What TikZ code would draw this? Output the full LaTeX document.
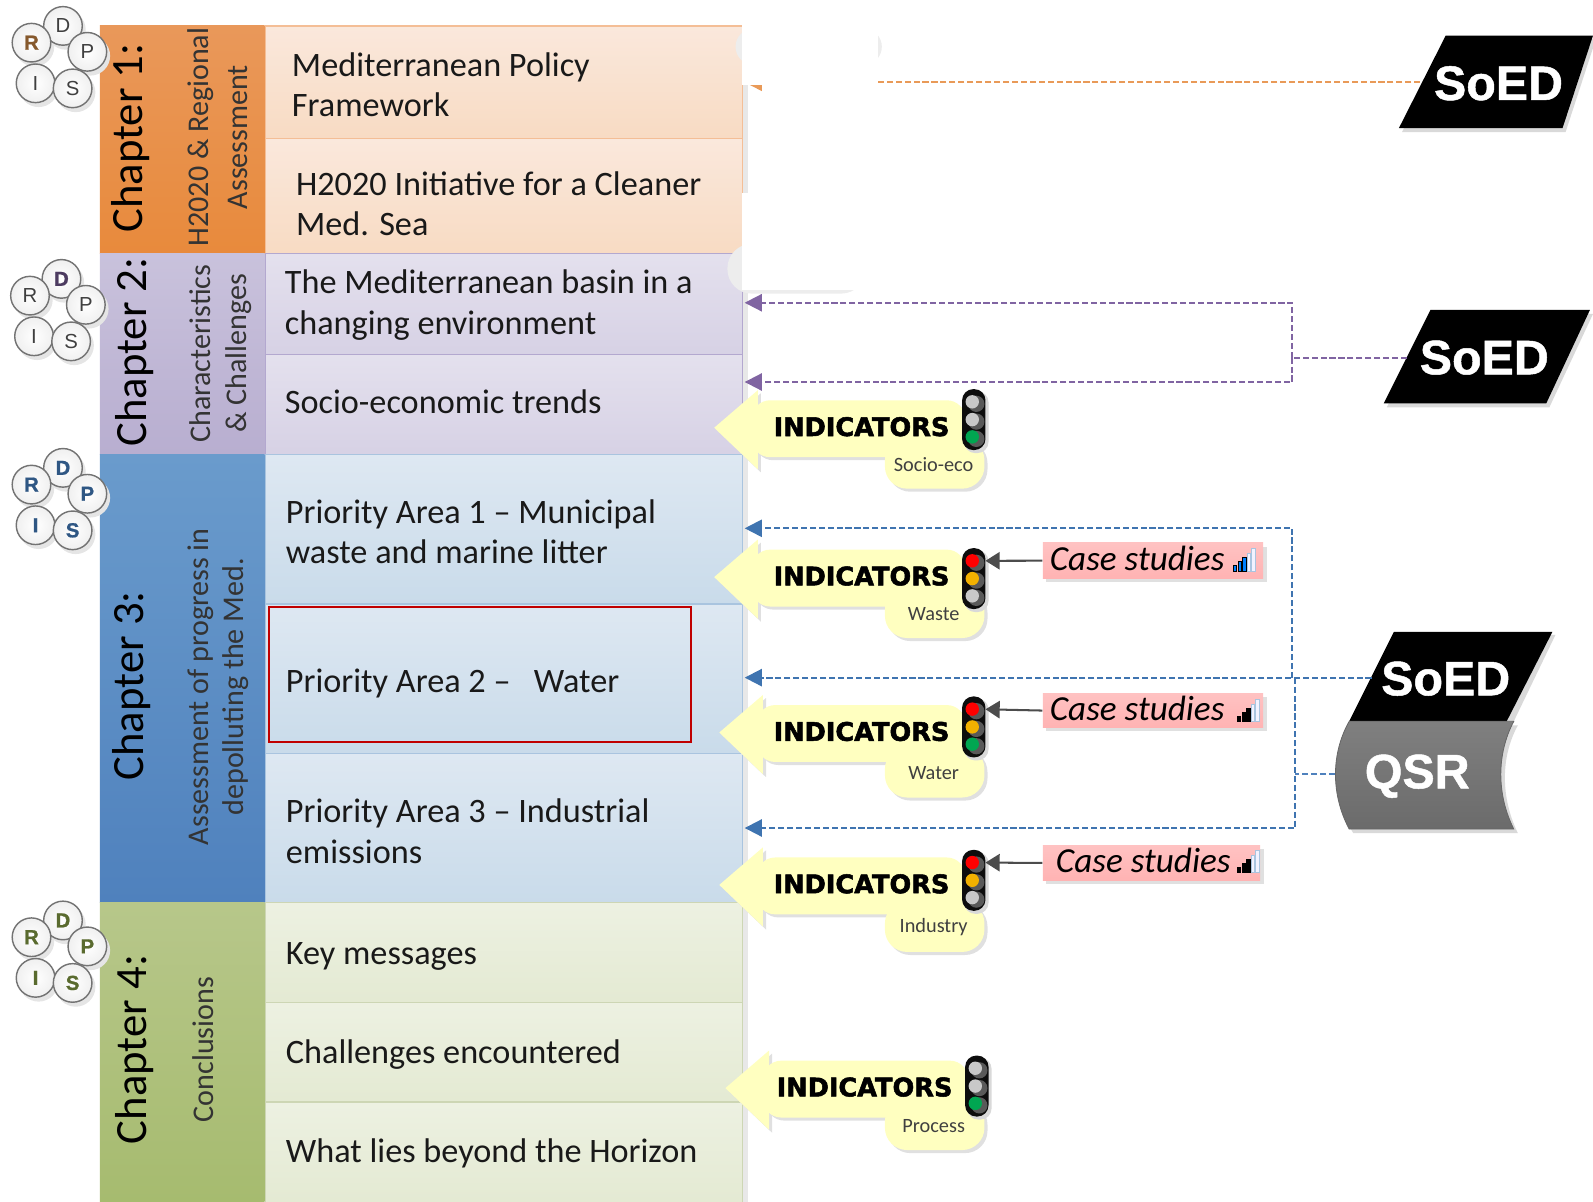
\documentclass[tikz,border=0pt]{standalone}
\usepackage{fontspec}
\setmainfont{Carlito}
\newfontfamily\arialf[BoldFeatures={FakeBold=1}]{Liberation Sans}
\newfontfamily\heavyf[BoldFeatures={FakeBold=2}]{DejaVu Sans}
\usetikzlibrary{arrows.meta}
\definecolor{orangeL}{HTML}{E9985A}
\definecolor{orangeD}{HTML}{E88A3C}
\definecolor{orangeLine}{HTML}{F4BE96}
\definecolor{orangeDash}{HTML}{E99A58}
\definecolor{orangeP}{HTML}{FAE8DC}
\definecolor{orangeQ}{HTML}{F8DBC3}
\definecolor{purpL}{HTML}{C9C2DC}
\definecolor{purpD}{HTML}{B8AED0}
\definecolor{purpLine}{HTML}{B3A8CF}
\definecolor{purpArrow}{HTML}{8064A2}
\definecolor{blueL}{HTML}{6A9BCC}
\definecolor{blueD}{HTML}{4F81BD}
\definecolor{blueLine}{HTML}{A9C4DF}
\definecolor{blueP}{HTML}{DEE8F2}
\definecolor{blueQ}{HTML}{C9DBEA}
\definecolor{blueArrow}{HTML}{3F74B0}
\definecolor{greenL}{HTML}{B7C78A}
\definecolor{greenD}{HTML}{A6BB6F}
\definecolor{greenLine}{HTML}{CDD6B4}
\definecolor{calloutY}{HTML}{FFFFC0}
\definecolor{redbox}{HTML}{C00000}
\definecolor{lampOff}{HTML}{C8C8C8}
\definecolor{lampAmb}{HTML}{F2B100}
\definecolor{lampGrn}{HTML}{00A651}
\definecolor{oliveT}{HTML}{5A6B2F}
\definecolor{caseP}{HTML}{FFC2C2}
\definecolor{caseQ}{HTML}{FFB3B3}
\tikzset{
  sidebar/.style={rectangle,draw=none,inner sep=0pt,anchor=north west},
  panelbox/.style={rectangle,inner sep=0pt,anchor=north west,line width=0.6pt},
  ptxt/.style={anchor=west,inner sep=0pt,align=left,font=\fontsize{16.85}{20}\selectfont,text=black!90},
  chap/.style={rotate=90,inner sep=0pt,font=\fontsize{22}{24}\selectfont,text=black},
  subt/.style={rotate=90,inner sep=0pt,align=center,font=\fontsize{14.8}{17.5}\selectfont,text=black!80},
  bubble/.style={circle,draw=black!55,line width=0.7pt,minimum size=19pt,inner sep=0pt,inner color=white,outer color=black!6,font=\arialf\fontsize{10}{10}\selectfont,text=black!75},
  bubshadow/.style={fill=black!10},
  indictxt/.style={inner sep=0pt,font=\heavyf\bfseries\fontsize{12.6}{13}\selectfont,text=black},
  subtxt/.style={inner sep=0pt,font=\fontsize{10}{11}\selectfont,text=black!75},
  lamp/.style={circle,inner sep=0pt,minimum size=6.6pt,draw=none},
  casebox/.style={rectangle,inner sep=0pt,anchor=north west,top color=caseP,bottom color=caseQ},
  casetxt/.style={inner sep=0pt,anchor=west,font=\itshape\fontsize{17.3}{18}\selectfont,text=black},
  soedtxt/.style={inner sep=0pt,text=white,font=\arialf\bfseries\fontsize{23.8}{26}\selectfont},
  dashline/.style={dash pattern=on 3pt off 1.4pt,line width=1pt},
  headtip/.style={-{Triangle[length=8.5pt,width=8.5pt]}},
  casearrow/.style={draw=black!70,line width=1pt,-{Triangle[length=7pt,width=8.5pt]},shorten >=3pt},
}
\newcommand\boxat[6]{%
  \pgfmathsetmacro\bw{(#4-#2)*0.5}\pgfmathsetmacro\bh{(#5-#3)*0.5}%
  \node[#6,minimum width=\bw pt,minimum height=\bh pt] (#1) at (#2,#3) {};}
\newcommand\rdpis[7]{%
  \begin{scope}[shift={(#2,#3)}]
    \foreach \cx/\cy in {62/25.5,31/42,86/51,35/82,71.5/87}{\fill[bubshadow] (\cx+3,\cy+4) circle (9.7pt);}
    \node[bubble,#5] (#1D) at (62,25.5) {D};
    \node[bubble,#4] (#1R) at (31,42) {R};
    \node[bubble,#6] (#1P) at (86,51) {P};
    \node[bubble,#7] (#1I) at (35,82) {I};
    \node[bubble,#7] (#1S) at (71.5,87) {S};
  \end{scope}}
% name tipdx dx dy sublabel subdy lamp1 lamp2 lamp3 ; \ldy = extra lamp shift, \pdx = pill shift
\def\ldy{0}\def\pdx{0}
\newcommand\indic[9]{%
  \begin{scope}[shift={(#3,#4)}]
    \foreach \sx/\sc in {3/black!12,0/calloutY}{
      \begin{scope}[shift={(\sx,\sx)}]
      \fill[\sc] (703+#2,421)--(746+#2,384)--(746+#2,462)--cycle;
      \fill[\sc,rounded corners=9pt] (740+#2,394) rectangle (950,450);
      \fill[\sc,rounded corners=11pt] (871+\pdx,431+#6) rectangle (969+\pdx,481+#6);
      \end{scope}}
    \node[indictxt] (#1txt) at (848,420) {INDICATORS};
    \node[subtxt] (#1sub) at (919+\pdx,457+#6) {#5};
    \fill[black!15,rounded corners=5.5pt] (949,385+\ldy) rectangle (973,446+\ldy);
    \fill[black!95,rounded corners=5.5pt] (947,383+\ldy) rectangle (970,443+\ldy);
    \foreach \ly in {395.5,413,430}{\fill[black!65] (961,\ly+2+\ldy) circle (4pt);}
    \node[lamp,fill=#7] (#1a) at (957,395.5+\ldy) {};
    \node[lamp,fill=#8] (#1b) at (957,413+\ldy) {};
    \node[lamp,fill=#9] (#1c) at (957,430+\ldy) {};
  \end{scope}}
\newcommand\sigbars[3]{%
  \begin{scope}[shift={(#1,#2)}]
    \foreach \bx/\bhh in {0/5,4.5/9,9/13}{\filldraw[fill=#3,draw=black,line width=0.4pt] (\bx,0) rectangle (\bx+3.4,-\bhh);}
    \foreach \bx/\bhh in {13.5/17,18/22}{\filldraw[fill=blue!5,draw=blueLine,line width=0.4pt] (\bx,0) rectangle (\bx+3.4,-\bhh);}
  \end{scope}}
\begin{document}
\begin{tikzpicture}[x=0.5pt,y=-0.5pt]
\useasboundingbox (0,0) rectangle (1568,1183);
\fill[black!9] (730,84) rectangle (736,1183);
% sidebars
\boxat{s1}{98}{25}{260}{249}{sidebar,top color=orangeL,bottom color=orangeD}
\boxat{s2}{98}{249}{260}{447}{sidebar,top color=purpL,bottom color=purpD}
\boxat{s3}{98}{447}{260}{888}{sidebar,top color=blueL,bottom color=blueD}
\boxat{s4}{98}{888}{260}{1183}{sidebar,top color=greenL,bottom color=greenD}
% panels
\boxat{p11}{261}{25}{730}{136}{panelbox,draw=orangeLine,top color=orangeP,bottom color=orangeQ}
\boxat{p12}{261}{136}{730}{249}{panelbox,draw=orangeLine,top color=orangeP,bottom color=orangeQ}
\boxat{p21}{261}{249}{730}{348}{panelbox,draw=purpLine,top color=purpL!50!white,bottom color=purpL!75!white}
\boxat{p22}{261}{348}{730}{447}{panelbox,draw=purpLine,top color=purpL!50!white,bottom color=purpL!75!white}
\boxat{p31}{261}{447}{730}{594}{panelbox,draw=blueLine,top color=blueP,bottom color=blueQ}
\boxat{p32}{261}{594}{730}{741}{panelbox,draw=blueLine,top color=blueP,bottom color=blueQ}
\boxat{p33}{261}{741}{730}{888}{panelbox,draw=blueLine,top color=blueP,bottom color=blueQ}
\boxat{p41}{261}{888}{730}{986}{panelbox,draw=greenLine,top color=greenL!25!white,bottom color=greenL!38!white}
\boxat{p42}{261}{986}{730}{1084}{panelbox,draw=greenLine,top color=greenL!25!white,bottom color=greenL!38!white}
\boxat{p43}{261}{1084}{730}{1183}{panelbox,draw=greenLine,top color=greenL!25!white,bottom color=greenL!38!white}
\boxat{focus}{264}{596}{679}{729}{rectangle,inner sep=0pt,anchor=north west,draw=redbox,line width=1pt}
% panel texts
\node[ptxt] (t11) at (287,83.5) {Mediterranean Policy\\Framework};
\node[ptxt] (t12) at (291,200.5) {H2020 Initiative for a Cleaner\\Med. Sea};
\node[ptxt] (t21) at (280,300.5) {The Mediterranean basin in a\\changing environment};
\node[ptxt] (t22) at (280,395) {Socio-economic trends};
\node[ptxt] (t31) at (281,523.5) {Priority Area 1 – Municipal\\waste and marine litter};
\node[ptxt] (t32) at (281,673) {Priority Area 2 –\ \ \ Water};
\node[ptxt] (t33) at (281,818) {Priority Area 3 – Industrial\\emissions};
\node[ptxt] (t41) at (281,941) {Key messages};
\node[ptxt] (t42) at (281,1038) {Challenges encountered};
\node[ptxt] (t43) at (281,1135) {What lies beyond the Horizon};
% chapter labels
\node[chap] (c1) at (129,136) {Chapter 1:};
\node[chap] (c2) at (132,346.5) {Chapter 2:};
\node[chap] (c3) at (130,675) {Chapter 3:};
\node[chap] (c4) at (132,1033) {Chapter 4:};
\node[subt] (d1) at (214,135) {H2020 \& Regional\\[1.5pt]Assessment};
\node[subt] (d2) at (217,348) {Characteristics\\\& Challenges};
\node[subt] (d3) at (215,676) {Assessment of progress in\\depolluting the Med.};
\node[subt] (d4) at (200,1033) {Conclusions};
% clusters
\tikzset{lbold/.style={font=\arialf\bfseries\fontsize{10}{10}\selectfont,text=#1}}
\rdpis{a}{0}{0}{lbold=brown!70!black}{}{}{}
\rdpis{b}{-1.5}{249}{}{lbold=purpArrow!60!black}{}{}
\rdpis{e}{0}{435}{lbold=blueArrow!75!black}{lbold=blueArrow!75!black}{lbold=blueArrow!75!black}{lbold=blueArrow!75!black}
\rdpis{f}{0}{880.5}{lbold=oliveT}{lbold=oliveT}{lbold=oliveT}{lbold=oliveT}
% SoED / QSR shapes
\fill[black!15] (1426,38)--(1571,38)--(1541,130)--(1380,130)--cycle;
\fill[black] (1423,35)--(1568,35)--(1538,126)--(1377,126)--cycle;
\node[soedtxt] (soedA) at (1475,82) {SoED};
\fill[black!15] (1411,309)--(1568,309)--(1525,401)--(1365,401)--cycle;
\fill[black] (1408,305)--(1565,305)--(1522,397)--(1362,397)--cycle;
\node[soedtxt] (soedB) at (1461,352) {SoED};
\fill[black!15] (1375,625)--(1531,625)--(1490,710)--(1340,710)--cycle;
\fill[black!15] (1332,714) .. controls (1310,745) and (1310,785) .. (1332,820) -- (1494,820) .. controls (1477,785) and (1477,745) .. (1494,714) -- cycle;
\fill[black] (1372,622)--(1528,622)--(1483,710)--(1328,710)--cycle;
\shade[top color=black!50,bottom color=black!58,draw=black!60,line width=0.4pt] (1328,710) .. controls (1310,742) and (1310,782) .. (1328,816) -- (1490,816) .. controls (1473,782) and (1473,742) .. (1490,710) -- cycle;
\node[soedtxt] (soedC) at (1423,668) {SoED};
\node[soedtxt] (qsr) at (1395,764) {QSR};
% connector anchors
\coordinate (oL) at (733,81);
\coordinate (oR) at (1398,81);
\coordinate (vS) at (1385,352);
\coordinate (vJ) at (1272,352);
\coordinate (vT) at (1272,298);
\coordinate (vB) at (1272,376);
\coordinate (vA) at (733,298);
\coordinate (vC) at (733,376);
\coordinate (wS) at (1350,667);
\coordinate (wJ) at (1272,667);
\coordinate (wT) at (1272,520);
\coordinate (wA) at (733,520);
\coordinate (wM) at (733,667);
\coordinate (wK) at (1275,667);
\coordinate (wQ) at (1275,762);
\coordinate (wE) at (1314,762);
\coordinate (wZ) at (1275,815);
\coordinate (wC) at (733,815);
% dashed connectors
\draw[dashline,draw=orangeDash,headtip] (oR) -- (oL);
\draw[dashline,draw=purpArrow] (vS) -- (vJ);
\draw[dashline,draw=purpArrow,headtip] (vJ) -- (vT) -- (vA);
\draw[dashline,draw=purpArrow,headtip] (vJ) -- (vB) -- (vC);
\draw[dashline,draw=blueArrow,headtip] (wS) -- (wM);
\draw[dashline,draw=blueArrow,headtip] (wJ) -- (wT) -- (wA);
\draw[dashline,draw=blueArrow,headtip] (wK) -- (wZ) -- (wC);
\draw[dashline,draw=blueD] (wE) -- (wQ);
% white masks
\fill[black!7,rounded corners=9pt] (724,28) rectangle (868,64);
\fill[white] (730,20) rectangle (864,84);
\fill[black!7,rounded corners=12pt] (716,240) rectangle (852,289);
\fill[white] (730,190) rectangle (860,285);
% callouts
\indic{soc}{0}{0}{0}{Socio-eco}{0}{lampOff}{lampOff}{lampGrn}
\def\ldy{9.5}
\indic{was}{0}{0}{147}{Waste}{0}{red}{lampAmb}{lampOff}
\def\ldy{2.5}
\indic{wat}{5}{0}{300}{Water}{4}{red}{lampAmb}{lampGrn}
\def\ldy{3.5}
\indic{ind}{5}{0}{450}{Industry}{6}{red}{lampAmb}{lampOff}
\def\ldy{6}\def\pdx{-3}
\indic{pro}{8}{3}{650}{Process}{1}{lampOff}{lampOff}{lampGrn}
\def\ldy{0}\def\pdx{0}
% case studies
\fill[black!12] (1030,538) rectangle (1247,573);
\fill[black!12] (1030,686) rectangle (1247,720);
\fill[black!12] (1030,836) rectangle (1244,870);
\boxat{k1}{1026}{534}{1243}{569}{casebox}
\boxat{k2}{1026}{682}{1243}{716}{casebox}
\boxat{k3}{1026}{832}{1240}{866}{casebox}
\node[casetxt] (k1t) at (1033,550) {Case studies};
\node[casetxt] (k2t) at (1033,697) {Case studies};
\node[casetxt] (k3t) at (1039,847) {Case studies};
\sigbars{1214}{562}{blue!50!cyan}
\sigbars{1218}{710}{black}
\sigbars{1218}{859}{black}
\draw[casearrow] (k1.west) -- (wasa.east);
\draw[casearrow] (k2.west) -- (wata.east);
\draw[casearrow] (k3.west) -- (inda.east);
\end{tikzpicture}
\end{document}
